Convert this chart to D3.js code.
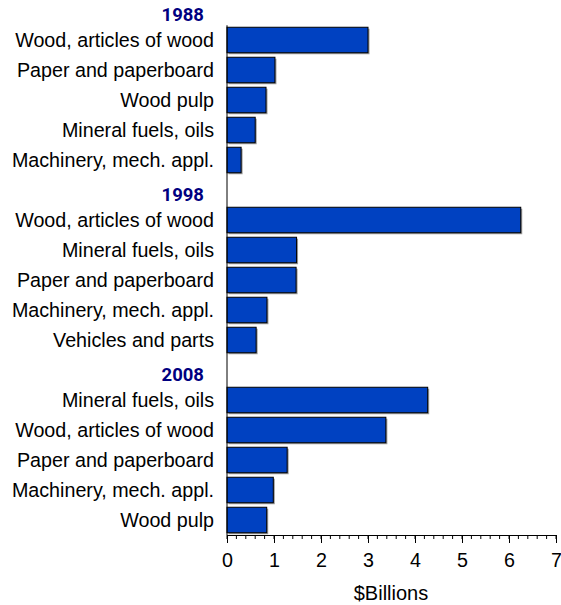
<!DOCTYPE html>
<html>
<head>
<meta charset="utf-8">
<script src="https://cdn.jsdelivr.net/npm/d3@7"></script>
<style>
  body { margin: 0; background: #fff; }
  svg { font-family: "Liberation Sans", Arial, sans-serif; }
</style>
</head>
<body>
<svg width="561" height="605"></svg>
<script>
// top export categories by year, $ billions
var years = ["1988", "1998", "2008"];

var categories1988 = ["Wood, articles of wood", "Paper and paperboard", "Wood pulp", "Mineral fuels, oils", "Machinery, mech. appl."];
var values1988 = [3.0, 1.02, 0.83, 0.6, 0.3];

var categories1998 = ["Wood, articles of wood", "Mineral fuels, oils", "Paper and paperboard", "Machinery, mech. appl.", "Vehicles and parts"];
var values1998 = [6.25, 1.48, 1.47, 0.85, 0.62];

var categories2008 = ["Mineral fuels, oils", "Wood, articles of wood", "Paper and paperboard", "Machinery, mech. appl.", "Wood pulp"];
var values2008 = [4.27, 3.38, 1.28, 0.985, 0.845];

var xTicks = [0, 1, 2, 3, 4, 5, 6, 7];

function drawChart() {
  var svg = d3.select("svg");

  var left = 227;
  var right = 556;
  var top = -5;
  var bottom = 535;

  // one row per year heading plus one per bar
  var rows = [];
  [[categories1988, values1988], [categories1998, values1998], [categories2008, values2008]]
    .forEach(function(group, gi) {
      rows.push({ key: "y" + gi, year: years[gi] });
      group[0].forEach(function(c, i) {
        rows.push({ key: "r" + gi + "_" + i, name: c, value: group[1][i] });
      });
    });

  var xScale = d3.scaleLinear()
                 .domain([0, 7])
                 .range([left, right]);

  var yScale = d3.scaleBand()
                 .domain(rows.map(d => d.key))
                 .range([top, bottom])
                 .paddingInner(0.15)
                 .paddingOuter(0.075);

  var bars = rows.filter(d => d.name);
  var heads = rows.filter(d => d.year);

  // bar shadows
  svg.append("g")
    .selectAll("rect")
    .data(bars)
    .enter()
    .append("rect")
      .attr("x", xScale(0) + 1.5)
      .attr("y", d => yScale(d.key) + 1.5)
      .attr("width", d => xScale(d.value) - xScale(0))
      .attr("height", yScale.bandwidth())
      .attr("fill", "#9a9a9a");

  svg.append("g")
    .selectAll("rect")
    .data(bars)
    .enter()
    .append("rect")
      .attr("x", xScale(0))
      .attr("y", d => yScale(d.key))
      .attr("width", d => xScale(d.value) - xScale(0))
      .attr("height", yScale.bandwidth())
      .attr("fill", "#0041c1")
      .attr("stroke", "#000")
      .attr("stroke-width", 1);

  // category labels
  svg.append("g")
    .selectAll("text")
    .data(bars)
    .enter()
    .append("text")
      .text(d => d.name)
      .attr("x", 214)
      .attr("y", d => yScale(d.key) + yScale.bandwidth() / 2 + 7)
      .style("text-anchor", "end")
      .style("font-size", "19.7px")
      .style("fill", "#000");

  // year headings
  svg.append("g")
    .selectAll("text")
    .data(heads)
    .enter()
    .append("text")
      .text(d => d.year)
      .attr("x", 204)
      .attr("y", d => yScale(d.key) + yScale.bandwidth() / 2 + 11)
      .style("text-anchor", "end")
      .style("font-family", "Roboto, 'Liberation Sans', sans-serif")
      .style("font-size", "18.5px")
      .style("font-weight", "bold")
      .style("fill", "#000080");

  // vertical spine
  svg.append("line")
    .attr("x1", left)
    .attr("x2", left)
    .attr("y1", yScale(bars[0].key) - 2)
    .attr("y2", bottom)
    .attr("stroke", "#000")
    .attr("stroke-width", 1);

  // minor ticks
  var minor = d3.range(0, 7.001, 0.2);
  svg.append("g")
    .selectAll("line")
    .data(minor)
    .enter()
    .append("line")
      .attr("x1", d => xScale(d))
      .attr("x2", d => xScale(d))
      .attr("y1", bottom)
      .attr("y2", bottom + 4)
      .attr("stroke", "#000");

  var xAxis = d3.axisBottom(xScale)
                .tickValues(xTicks)
                .tickFormat(d3.format("d"))
                .tickSize(8)
                .tickSizeOuter(0)
                .tickPadding(10);

  var gx = svg.append("g")
    .attr("transform", "translate(0," + bottom + ")")
    .call(xAxis);

  gx.selectAll("text")
    .style("font-size", "19.7px")
    .style("font-family", "'Liberation Sans', Arial, sans-serif")
    .style("fill", "#000");

  svg.append("text")
    .text("$Billions")
    .attr("x", 391)
    .attr("y", 600)
    .style("text-anchor", "middle")
    .style("font-size", "20px");
}

drawChart();
</script>
</body>
</html>
